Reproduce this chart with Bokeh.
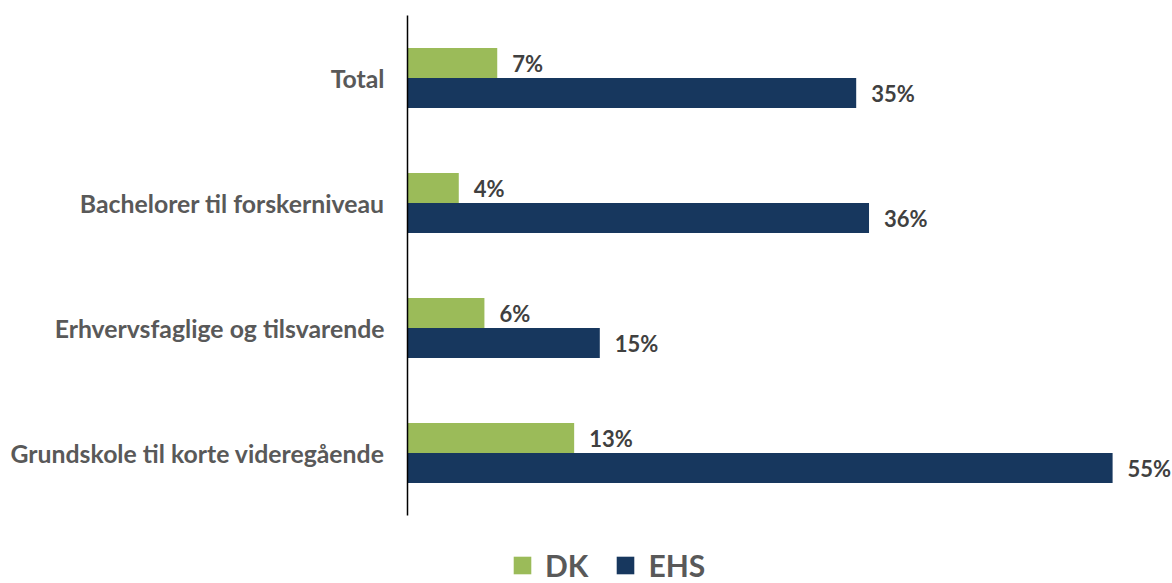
from bokeh.plotting import figure
from bokeh.models import ColumnDataSource, Range1d, Legend, LegendItem
from bokeh.core.properties import value
from bokeh.embed import file_html
from bokeh.resources import INLINE

categories = ["Total", "Bachelorer til forskerniveau", "Erhvervsfaglige og tilsvarende",
              "Grundskole til korte videregående"]
dk = [7, 4, 6, 13]
ehs = [35, 36, 15, 55]
series_names = ["DK", "EHS"]
colors = ["#9BBB59", "#17375E"]

n = len(categories)
pos = [n - 1 - i for i in range(n)]          # Total at top
BAR_H = 0.24

src = ColumnDataSource(dict(
    cat=categories, pos=pos,
    pos_dk=[q + BAR_H / 2 for q in pos],
    pos_ehs=[q - BAR_H / 2 for q in pos],
    dk=dk, ehs=ehs,
    dk_label=[f"{v}%" for v in dk],
    ehs_label=[f"{v}%" for v in ehs],
    zero=[0] * n,
))

FONT = "Lato"
PX_PER_UNIT = 12.82
W, H = 1172, 583
AXIS_X = 407          # pixel position of the value axis
TOP_PAD, BOT_PAD = 15, 68   # pixels outside the category bands

x_range = Range1d(-AXIS_X / PX_PER_UNIT, (W - AXIS_X) / PX_PER_UNIT)
band = (H - TOP_PAD - BOT_PAD) / n
y_range = Range1d(-0.5 - BOT_PAD / band, n - 0.5 + TOP_PAD / band)

p = figure(width=W, height=H, x_range=x_range, y_range=y_range,
           output_backend="svg", toolbar_location=None,
           x_axis_location=None, y_axis_location=None,
           min_border=0, min_border_left=0, min_border_right=0,
           min_border_top=0, min_border_bottom=0)
p.xgrid.grid_line_color = None
p.ygrid.grid_line_color = None
p.outline_line_color = None

r1 = p.hbar(y="pos_dk", left=0, right="dk", height=BAR_H,
            fill_color=colors[0], line_color=None, source=src)
r2 = p.hbar(y="pos_ehs", left=0, right="ehs", height=BAR_H,
            fill_color=colors[1], line_color=None, source=src)

# value axis line
p.segment(x0=[0], x1=[0], y0=[-0.5], y1=[n - 0.5], line_color="black", line_width=1.5)

# category labels
p.text(x="zero", y="pos", text="cat", source=src, x_offset=-23,
       text_align="right", text_baseline="middle",
       text_font=value(FONT), text_font_style="bold", text_font_size="24.8px",
       text_color="#595959")

# value labels
for col, lab, ycol in (("dk", "dk_label", "pos_dk"), ("ehs", "ehs_label", "pos_ehs")):
    p.text(x=col, y=ycol, text=lab, source=src,
           x_offset=15, text_baseline="middle", text_align="left",
           text_font=value(FONT), text_font_style="bold", text_font_size="22px",
           text_color="#404040")

legend = Legend(items=[LegendItem(label=series_names[0], renderers=[r1]),
                       LegendItem(label=series_names[1], renderers=[r2])],
                orientation="horizontal", location=(511, 0),
                glyph_width=22, glyph_height=22, label_standoff=12, spacing=26,
                label_text_font=FONT, label_text_font_style="bold",
                label_text_font_size="30px", label_text_color="#595959",
                border_line_color=None, background_fill_alpha=0,
                padding=0, margin=0)
p.add_layout(legend, "center")

open("out.html", "w").write(file_html(p, INLINE))
